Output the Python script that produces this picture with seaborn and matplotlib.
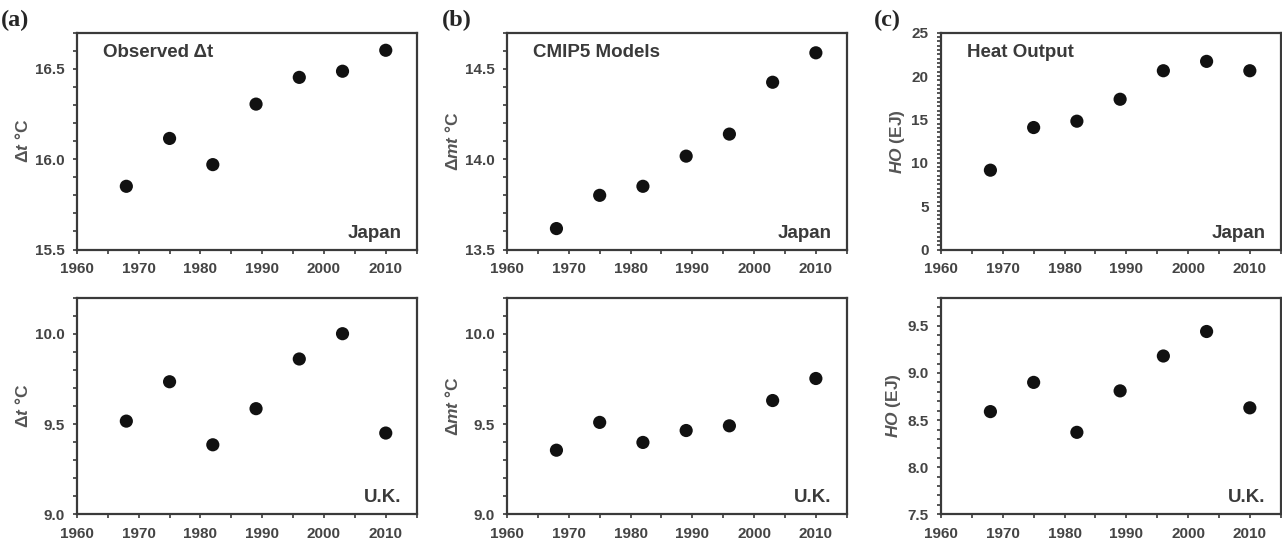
import numpy as np
import pandas as pd
import matplotlib
matplotlib.use("Agg")
import matplotlib.pyplot as plt
from matplotlib.ticker import MultipleLocator, FormatStrFormatter
import seaborn as sns

# years sampled every 7 years
years = [1968, 1975, 1982, 1989, 1996, 2003, 2010]

# (a) observed dt
obs_japan = [15.85, 16.115, 15.97, 16.305, 16.453, 16.487, 16.603]
obs_uk = [9.516, 9.734, 9.385, 9.585, 9.86, 10.0, 9.45]

# (b) CMIP5 models
cmip_japan = [13.616, 13.80, 13.85, 14.017, 14.139, 14.426, 14.589]
cmip_uk = [9.355, 9.509, 9.398, 9.464, 9.49, 9.63, 9.752]

# (c) heat output
ho_japan = [9.15, 14.07, 14.8, 17.33, 20.62, 21.7, 20.62]
ho_uk = [8.59, 8.90, 8.37, 8.81, 9.18, 9.44, 8.63]

sns.set_style("ticks")
plt.rcParams['font.family'] = ['Liberation Sans', 'DejaVu Sans']
plt.rcParams['mathtext.fontset'] = 'custom'
plt.rcParams['mathtext.rm'] = 'Liberation Sans:bold'
plt.rcParams['mathtext.it'] = 'Liberation Sans:italic:bold'

gray = '#3a3a3a'
tick_gray = '#444444'

fig = plt.figure(figsize=(12.82, 5.46), dpi=100)

lefts = [0.060, 0.3955, 0.734]
bottoms = [0.543, 0.058]
w, h = 0.265, 0.397

panels = [
    # col, row, data, ylim, major, minor, ylabel, title, region, fmt
    (0, 0, obs_japan, (15.5, 16.7), 0.5, 0.1, r'$\Delta\mathit{t}$ °C', 'Observed \u0394t', 'Japan', '%.1f'),
    (0, 1, obs_uk, (9.0, 10.2), 0.5, 0.1, r'$\Delta\mathit{t}$ °C', None, 'U.K.', '%.1f'),
    (1, 0, cmip_japan, (13.5, 14.7), 0.5, 0.1, r'$\Delta\mathit{mt}$ °C', 'CMIP5 Models', 'Japan', '%.1f'),
    (1, 1, cmip_uk, (9.0, 10.2), 0.5, 0.1, r'$\Delta\mathit{mt}$ °C', None, 'U.K.', '%.1f'),
    (2, 0, ho_japan, (0, 25), 5, 0.5, r'$\mathit{HO}$ (EJ)', 'Heat Output', 'Japan', '%d'),
    (2, 1, ho_uk, (7.5, 9.8), 0.5, 0.1, r'$\mathit{HO}$ (EJ)', None, 'U.K.', '%.1f'),
]

for col, row, vals, ylim, major, minor, ylabel, title, region, fmt in panels:
    ax = fig.add_axes([lefts[col], bottoms[row], w, h])
    df = pd.DataFrame({'year': years, 'value': vals})
    sns.scatterplot(data=df, x='year', y='value', ax=ax, s=90,
                    color='#111111', edgecolor='none', zorder=3)
    ax.set_xlim(1960, 2015)
    ax.set_ylim(*ylim)
    ax.xaxis.set_major_locator(MultipleLocator(10))
    ax.xaxis.set_minor_locator(MultipleLocator(5))
    ax.yaxis.set_major_locator(MultipleLocator(major))
    ax.yaxis.set_minor_locator(MultipleLocator(minor))
    ax.yaxis.set_major_formatter(FormatStrFormatter(fmt))
    for sp in ax.spines.values():
        sp.set_color(gray)
        sp.set_linewidth(1.6)
    ax.tick_params(axis='both', which='both', direction='out', color=gray,
                   width=1.2, labelcolor=tick_gray, labelsize=11)
    ax.tick_params(axis='both', which='major', length=3, pad=6)
    ax.tick_params(axis='both', which='minor', length=3)
    for lab in ax.get_xticklabels() + ax.get_yticklabels():
        lab.set_fontweight('bold')
    ax.set_xlabel('')
    ax.set_ylabel(ylabel, fontsize=12.5, color='#555555', fontweight='bold', labelpad=3)
    if title:
        ax.text(0.077, 0.91, title, transform=ax.transAxes, fontsize=13.5,
                fontweight='bold', color=gray, va='center', ha='left')
    ax.text(0.955, 0.055, region, transform=ax.transAxes, fontsize=13.5,
            fontweight='bold', color=gray, va='baseline', ha='right')

for x, lab in [(0.001, '(a)'), (0.345, '(b)'), (0.682, '(c)')]:
    fig.text(x, 0.962, lab, fontsize=17.5, fontweight='bold',
             family='Liberation Serif', va='center', ha='left')

fig.savefig('out.png', dpi=100)
